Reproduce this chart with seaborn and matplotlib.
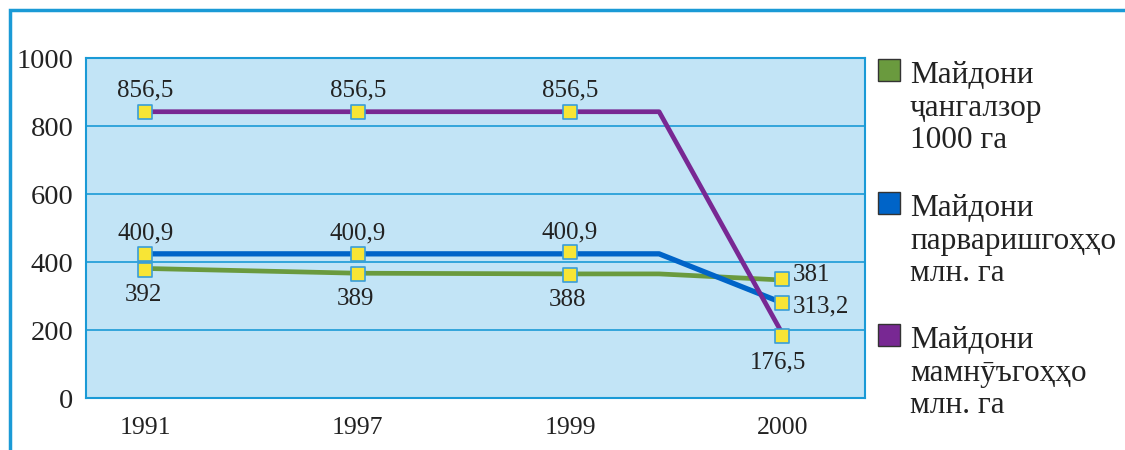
import matplotlib
matplotlib.use("Agg")
import matplotlib.pyplot as plt
import matplotlib.patches as mpatches
import seaborn as sns
import pandas as pd

# category labels and line data
years = ["1991", "1997", "1999", "2000"]
line_x = [0, 1, 2, 2.42, 3]          # the lines run flat a bit past 1999 before dropping
green_line = [381, 367, 365, 365, 347]
blue_line = [424, 424, 424, 424, 280]
purple_line = [842, 842, 842, 842, 190]

marker_x = [0, 1, 2, 3]
green_marks = [376, 365, 362, 350]
blue_marks = [424, 425, 428, 280]
purple_marks = [842, 842, 842, 182]

green_labels = ["392", "389", "388", "381"]
blue_labels = ["400,9", "400,9", "400,9", "313,2"]
purple_labels = ["856,5", "856,5", "856,5", "176,5"]

legend_names = [
    "Майдони\nҷангалзор\n1000 га",
    "Майдони\nпарваришгоҳҳо\nмлн. га",
    "Майдони\nмамнӯъгоҳҳо\nмлн. га",
]

GREEN = "#6a9a3e"
BLUE = "#0064c8"
PURPLE = "#782893"
FRAME = "#1a9ad6"

sns.set_theme(style="white")
plt.rcParams["font.family"] = ["Liberation Serif", "DejaVu Serif"]

fig = plt.figure(figsize=(11.25, 4.5), dpi=100)
W, H = 1125, 450

# outer frame (runs off the right and bottom edges)
fig.patches.append(mpatches.Rectangle((10 / W, -0.1), 1.2, (H - 10) / H + 0.1,
                                      transform=fig.transFigure, fill=False,
                                      edgecolor=FRAME, linewidth=2.5))

ax = fig.add_axes([86 / W, 52 / H, 779 / W, 340 / H])
ax.set_facecolor("#c2e4f6")

lines = pd.DataFrame({
    "x": line_x * 3,
    "y": green_line + blue_line + purple_line,
    "s": ["g"] * 5 + ["b"] * 5 + ["p"] * 5,
})
for key, col, lw, z in [("g", GREEN, 3.4, 3), ("b", BLUE, 3.8, 4), ("p", PURPLE, 3.4, 5)]:
    sns.lineplot(data=lines[lines.s == key], x="x", y="y", color=col,
                 linewidth=lw, ax=ax, zorder=z, sort=False, legend=False)

marks = pd.DataFrame({
    "x": marker_x * 3,
    "y": green_marks + blue_marks + purple_marks,
})
sns.scatterplot(data=marks, x="x", y="y", marker="s", s=95, color="#f8e535",
                edgecolor="#3a9ed8", linewidth=1.2, ax=ax, zorder=6)

# data labels
lab_kw = dict(textcoords="offset pixels", fontsize=18, color="#222222", zorder=7)
for i in range(4):
    if i < 3:
        ax.annotate(purple_labels[i], (marker_x[i], purple_marks[i]), xytext=(0, 21),
                    ha="center", va="center", **lab_kw)
        ax.annotate(blue_labels[i], (marker_x[i], blue_marks[i]), xytext=(0, 20),
                    ha="center", va="center", **lab_kw)
        ax.annotate(green_labels[i], (marker_x[i], green_marks[i]), xytext=(-2, -25),
                    ha="center", va="center", **lab_kw)
    else:
        ax.annotate(green_labels[i], (marker_x[i], green_marks[i]), xytext=(11, 4),
                    ha="left", va="center", **lab_kw)
        ax.annotate(blue_labels[i], (marker_x[i], blue_marks[i]), xytext=(11, -4),
                    ha="left", va="center", **lab_kw)
        ax.annotate(purple_labels[i], (marker_x[i], purple_marks[i]), xytext=(-4, -26),
                    ha="center", va="center", **lab_kw)

ax.set_xlim(-0.28, 3.39)
ax.set_ylim(0, 1000)
ax.set_yticks(range(0, 1001, 200))
ax.set_xticks(marker_x)
ax.set_xticklabels(years)
ax.tick_params(axis="y", length=0, pad=9, labelsize=20.5, labelcolor="#222222")
ax.tick_params(axis="x", length=0, pad=14, labelsize=18.5, labelcolor="#222222")
ax.set_xlabel("")
ax.set_ylabel("")
ax.grid(axis="y", color="#1a9ad6", linewidth=1.2)
ax.set_axisbelow(True)
for sp in ax.spines.values():
    sp.set_color(FRAME)
    sp.set_linewidth(1.5)

# legend: coloured squares beside three-line labels
square_y = [70, 203, 335]
for col, name, yc in zip([GREEN, BLUE, PURPLE], legend_names, square_y):
    fig.patches.append(mpatches.Rectangle((878 / W, (H - yc - 11) / H), 22 / W, 22 / H,
                                          transform=fig.transFigure, facecolor=col,
                                          edgecolor="#333333", linewidth=1))
    fig.text(910 / W, (H - yc + 9) / H, name, ha="left", va="top", fontsize=22.5,
             color="#222222", linespacing=1.17)

fig.savefig("out.png", dpi=100)
